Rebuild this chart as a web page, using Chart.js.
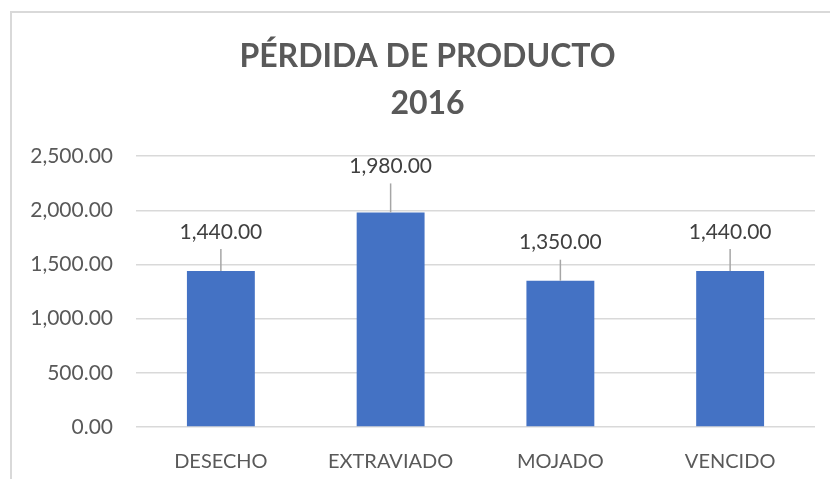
<!DOCTYPE html>
<html>
<head>
<meta charset="utf-8">
<script src="https://cdn.jsdelivr.net/npm/chart.js@4"></script>
<style>
  html, body { margin: 0; padding: 0; background: #fff; }
  canvas { display: block; }
</style>
</head>
<body>
<canvas id="grafica" width="830" height="479"></canvas>
<script>
// datos de la grafica
var categorias = ["DESECHO", "EXTRAVIADO", "MOJADO", "VENCIDO"]
var perdidas = [1440, 1980, 1350, 1440]
var titulo = ["PÉRDIDA DE PRODUCTO", "2016"]
var eje_min = 0, eje_max = 2500, eje_paso = 500

function formato(v) {
    return v.toLocaleString("en-US", { minimumFractionDigits: 2, maximumFractionDigits: 2 })
}

// marco gris arriba e izquierda, como en la hoja
var marco = {
    id: "marco",
    afterLayout(chart) {
        // el titulo se centra sobre la zona a la derecha del marco
        var t = chart.titleBlock
        if (t) { t.left = 40; t.width = t.right - t.left }
    },
    beforeDraw(chart) {
        var ctx = chart.ctx
        ctx.save()
        ctx.strokeStyle = "#d9d9d9"
        ctx.lineWidth = 2
        ctx.beginPath()
        ctx.moveTo(11, chart.height)
        ctx.lineTo(11, 12)
        ctx.lineTo(chart.width, 12)
        ctx.stroke()
        ctx.restore()
    }
}

// etiquetas con linea guia encima de cada barra
var etiquetas = {
    id: "etiquetas",
    afterDatasetsDraw(chart, args, opts) {
        var ctx = chart.ctx
        var meta = chart.getDatasetMeta(0)
        ctx.save()
        ctx.font = "21px Lato"
        ctx.textAlign = "center"
        ctx.textBaseline = "middle"
        meta.data.forEach((barra, i) => {
            var alto = opts.alturas[i]
            ctx.strokeStyle = "#a6a6a6"
            ctx.lineWidth = 1.5
            ctx.beginPath()
            ctx.moveTo(barra.x, barra.y)
            ctx.lineTo(barra.x, barra.y - alto + 17)
            ctx.stroke()
            ctx.fillStyle = "#404040"
            ctx.fillText(formato(chart.data.datasets[0].data[i]), barra.x, barra.y - alto)
        })
        ctx.restore()
    }
}

var carga = {
    type: "bar",
    data: {
        labels: categorias,
        datasets: [{
            label: "Pérdida",
            data: perdidas,
            backgroundColor: "#4472c4",
            categoryPercentage: 1,
            barPercentage: 0.4
        }]
    },
    options: {
        responsive: false,
        animation: false,
        layout: { padding: { top: 12, right: 15, bottom: 0, left: 0 } },
        plugins: {
            legend: { display: false },
            tooltip: { enabled: false },
            title: {
                display: true,
                text: titulo,
                color: "#595959",
                font: { family: "Lato", size: 32, weight: "bold", lineHeight: 1.47 },
                padding: { top: 21, bottom: 29 }
            },
            etiquetas: { alturas: [39, 46, 38, 39] }
        },
        scales: {
            x: {
                grid: { display: false },
                border: { display: false },
                ticks: { color: "#595959", font: { family: "Lato", size: 20 }, padding: 15, maxRotation: 0 },
                afterFit(eje) { eje.height = 52 }
            },
            y: {
                min: eje_min,
                max: eje_max,
                grid: { color: "#d9d9d9", lineWidth: 1.5, drawTicks: false },
                border: { display: false },
                ticks: {
                    stepSize: eje_paso,
                    color: "#595959",
                    font: { family: "Lato", size: 21 },
                    padding: 23,
                    callback: v => formato(v)
                },
                afterFit(eje) { eje.width = 136 }
            }
        }
    },
    plugins: [marco, etiquetas]
}

var grafica = new Chart(document.getElementById("grafica"), carga)
</script>
</body>
</html>
